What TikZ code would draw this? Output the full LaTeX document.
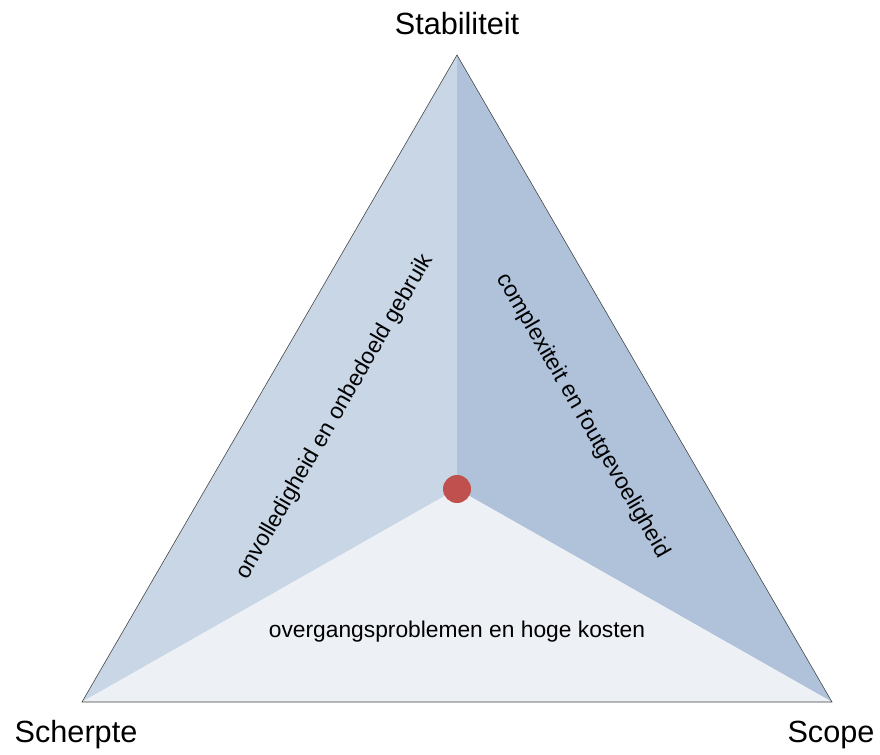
\documentclass[tikz,border=0pt]{standalone}
\usepackage{fontspec}
\setmainfont{Liberation Sans}
\definecolor{sideleft}{HTML}{C8D6E6}
\definecolor{sideright}{HTML}{AFC2DA}
\definecolor{sidebottom}{HTML}{EDF1F6}
\definecolor{dotred}{HTML}{C0504D}
\begin{document}
\begin{tikzpicture}[
  x=0.025cm, y=-0.025cm,
  cornerlbl/.style={font=\fontsize{21.8}{26}\selectfont},
  tensionlbl/.style={font=\fontsize{16.2}{19}\selectfont}
]
\useasboundingbox (0,0) rectangle (880,755);
% Corners of the triangle
\coordinate (top) at (457,55);
\coordinate (left) at (82,702);
\coordinate (right) at (832,702);
\coordinate (mid) at (457,489);

% Three areas
\fill[sideleft] (top) -- (mid) -- (left) -- cycle;
\fill[sideright] (top) -- (right) -- (mid) -- cycle;
\fill[sidebottom] (left) -- (mid) -- (right) -- cycle;
\draw[black!75,line width=0.4pt] (top) -- (right) -- (left) -- cycle;

% Corner labels
\node[cornerlbl] (stab) at (457,24) {Stabiliteit};
\node[cornerlbl] (scherp) at (76,735) {Scherpte};
\node[cornerlbl] (scope) at (831,735) {Scope};

% Tensions
\node[tensionlbl, rotate=60] (lefttxt) at (335,417) {onvolledigheid en onbedoeld gebruik};
\node[tensionlbl, rotate=-60] (righttxt) at (583,416) {complexiteit en foutgevoeligheid};
\node[tensionlbl] (bottomtxt) at (457,632) {overgangsproblemen en hoge kosten};

% Balance point
\fill[dotred] (mid) circle (14);
\end{tikzpicture}
\end{document}
